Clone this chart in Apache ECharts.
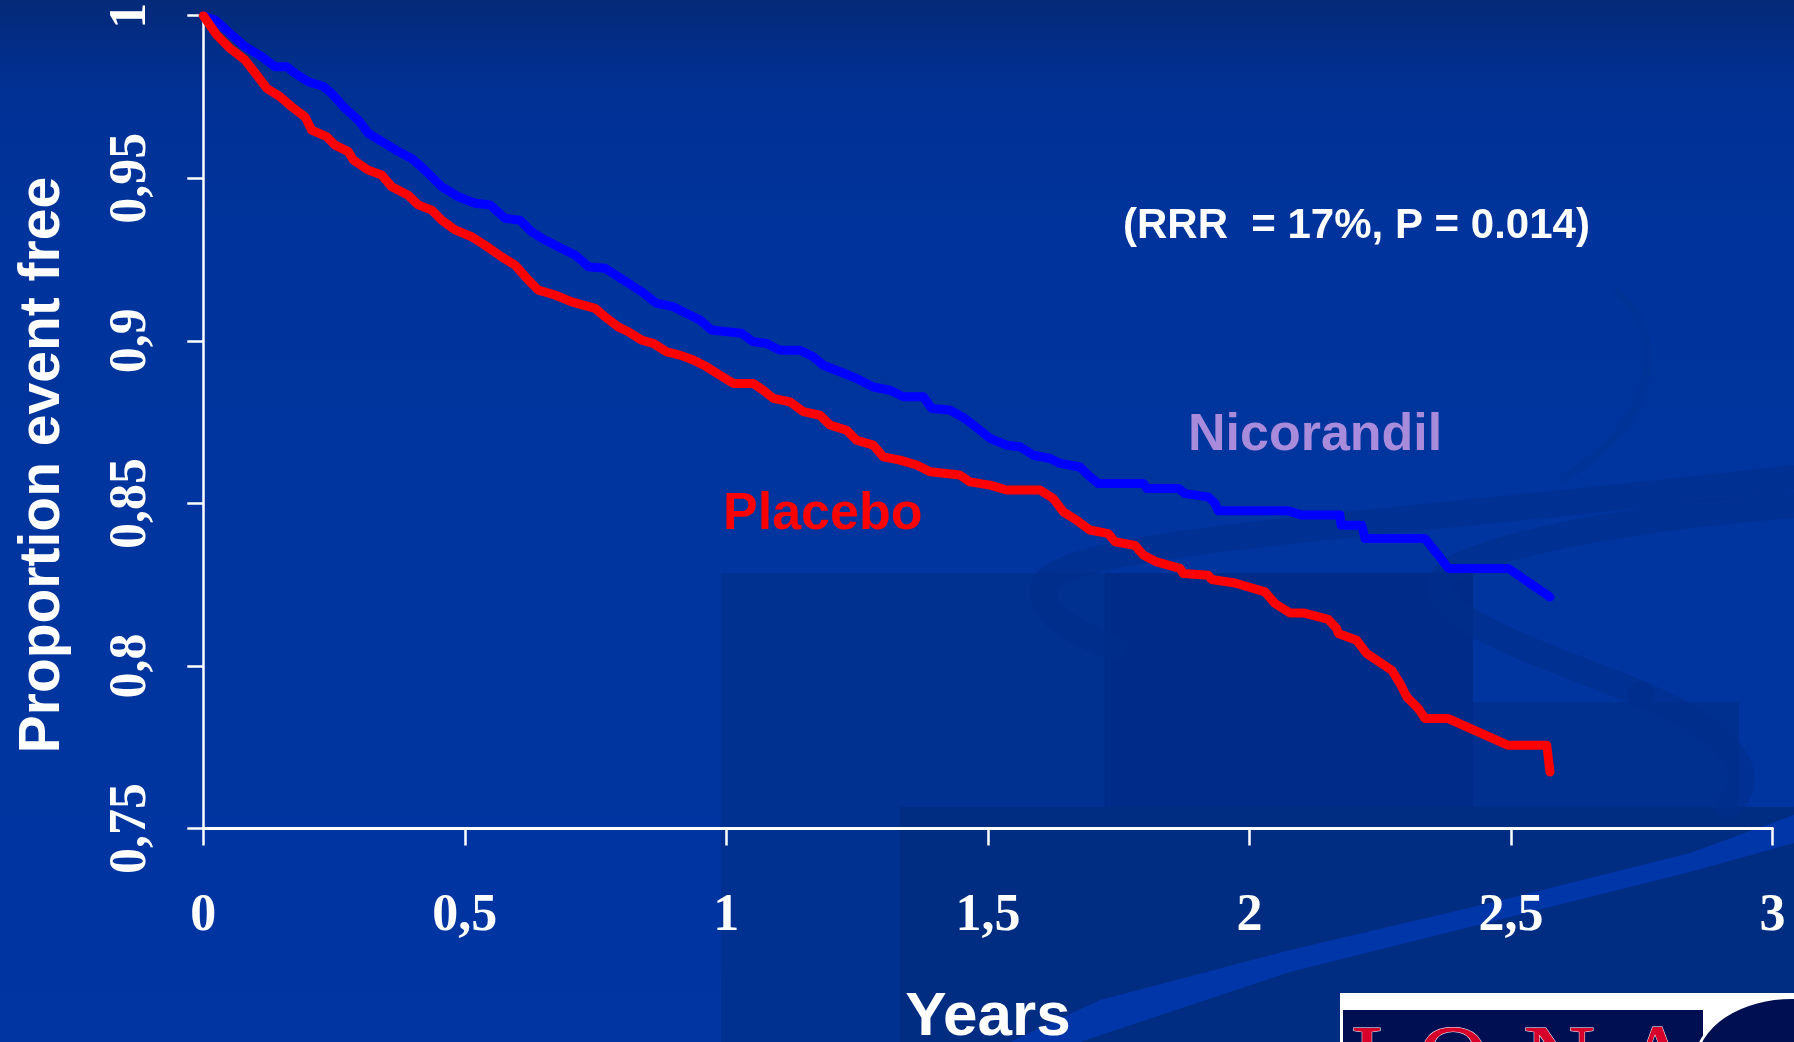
<!DOCTYPE html>
<html>
<head>
<meta charset="utf-8">
<script src="https://cdn.jsdelivr.net/npm/echarts@6/dist/echarts.min.js"></script>
<style>
html,body{margin:0;padding:0;background:#00349c;}
#chart{width:1794px;height:1042px;}
</style>
</head>
<body>
<div id="chart"></div>
<script>
// Kaplan-Meier curves: [years, proportion event free]
const nicorandil = [[0,1],[0.0224,0.9987],[0.0510,0.9946],[0.0797,0.9905],[0.1117,0.9874],[0.1371,0.9843],[0.1594,0.9843],[0.1753,0.9823],[0.2007,0.9797],[0.2294,0.9782],[0.2455,0.9761],[0.2709,0.9715],[0.2963,0.9679],[0.3154,0.9638],[0.3474,0.9607],[0.3728,0.9582],[0.3984,0.9561],[0.4238,0.9525],[0.4558,0.9474],[0.4875,0.9443],[0.5194,0.9423],[0.5481,0.9418],[0.5768,0.9377],[0.6055,0.9371],[0.6278,0.9335],[0.6533,0.9310],[0.6852,0.9284],[0.7106,0.9264],[0.7360,0.9228],[0.7680,0.9223],[0.7934,0.9197],[0.8381,0.9151],[0.8668,0.9115],[0.8985,0.9105],[0.9242,0.9084],[0.9496,0.9064],[0.9720,0.9033],[1.0006,0.9028],[1.0293,0.9023],[1.0515,0.8997],[1.0771,0.8992],[1.1025,0.8971],[1.1408,0.8971],[1.1662,0.8951],[1.1853,0.8925],[1.2172,0.8905],[1.2492,0.8884],[1.2809,0.8858],[1.3128,0.8848],[1.3383,0.8828],[1.3765,0.8828],[1.3925,0.8792],[1.4275,0.8787],[1.4562,0.8761],[1.4849,0.8725],[1.5040,0.8700],[1.5359,0.8679],[1.5614,0.8674],[1.5868,0.8648],[1.6187,0.8638],[1.6378,0.8623],[1.6761,0.8612],[1.6952,0.8582],[1.7111,0.8561],[1.7971,0.8561],[1.8036,0.8546],[1.8640,0.8546],[1.8768,0.8530],[1.9213,0.8520],[1.9342,0.8500],[1.9405,0.8477],[2.0743,0.8477],[2.0999,0.8464],[2.1731,0.8464],[2.1750,0.8433],[2.2146,0.8433],[2.2209,0.8392],[2.3356,0.8392],[2.3610,0.8341],[2.3802,0.8300],[2.4949,0.8300],[2.5746,0.8212]];

const placebo = [[0,1],[0.0256,0.9941],[0.0510,0.9900],[0.0797,0.9864],[0.1021,0.9818],[0.1212,0.9777],[0.1466,0.9751],[0.1690,0.9720],[0.1944,0.9689],[0.2072,0.9648],[0.2359,0.9628],[0.2518,0.9602],[0.2772,0.9582],[0.2868,0.9556],[0.3154,0.9525],[0.3411,0.9510],[0.3602,0.9474],[0.3919,0.9448],[0.4110,0.9418],[0.4367,0.9402],[0.4558,0.9371],[0.4812,0.9341],[0.5131,0.9320],[0.5386,0.9294],[0.5705,0.9258],[0.5959,0.9233],[0.6213,0.9187],[0.6405,0.9156],[0.6724,0.9141],[0.7043,0.9120],[0.7488,0.9100],[0.7680,0.9074],[0.7934,0.9043],[0.8125,0.9028],[0.8381,0.9002],[0.8603,0.8992],[0.8859,0.8966],[0.9114,0.8956],[0.9368,0.8941],[0.9624,0.8920],[0.9878,0.8894],[1.0133,0.8869],[1.0515,0.8869],[1.0706,0.8848],[1.0897,0.8823],[1.1216,0.8812],[1.1471,0.8782],[1.1790,0.8771],[1.1981,0.8741],[1.2300,0.8725],[1.2492,0.8694],[1.2809,0.8679],[1.3000,0.8643],[1.3320,0.8633],[1.3639,0.8618],[1.3893,0.8597],[1.4467,0.8587],[1.4658,0.8566],[1.5040,0.8556],[1.5359,0.8541],[1.5996,0.8541],[1.6250,0.8515],[1.6441,0.8474],[1.6698,0.8448],[1.6952,0.8418],[1.7302,0.8407],[1.7430,0.8382],[1.7812,0.8371],[1.7971,0.8341],[1.8227,0.8320],[1.8672,0.8300],[1.8735,0.8284],[1.9213,0.8279],[1.9278,0.8266],[1.9724,0.8255],[2.0297,0.8228],[2.0489,0.8192],[2.0776,0.8163],[2.1030,0.8163],[2.1508,0.8143],[2.1668,0.8115],[2.1699,0.8100],[2.2051,0.8079],[2.2242,0.8038],[2.2720,0.7987],[2.2879,0.7946],[2.3007,0.7905],[2.3228,0.7869],[2.3356,0.7838],[2.3802,0.7838],[2.4949,0.7756],[2.5684,0.7756],[2.5746,0.7674]];

const xTickLabels = ['0', '0,5', '1', '1,5', '2', '2,5', '3'];
const yTickLabels = ['0,75', '0,8', '0,85', '0,9', '0,95', '1'];
const xAxisTitle = 'Years';
const yAxisTitle = 'Proportion event free';
const statText = '(RRR  = 17%, P = 0.014)';
const seriesNames = ['Nicorandil', 'Placebo'];

const chart = echarts.init(document.getElementById('chart'), null, {renderer: 'canvas'});

const swoosh = {fill: null, stroke: '#002E8C', lineWidth: 26, opacity: 0.65, lineCap: 'round'};
const logoLetter = function (ch, x) {
  return {type: 'text', z: 7, x: x, y: 1067, style: {text: ch, fill: '#D6002A', stroke: '#ffffff', lineWidth: 1, font: '100px "Liberation Serif"', textAlign: 'center', textVerticalAlign: 'middle'}};
};

const decor = [
  {type: 'rect', z: -10, shape: {x: 721, y: 573, width: 384, height: 469}, style: {fill: '#003090'}},
  {type: 'rect', z: -10, shape: {x: 1105, y: 573, width: 368, height: 234}, style: {fill: '#002B88'}},
  {type: 'rect', z: -10, shape: {x: 1473, y: 702, width: 266, height: 105}, style: {fill: '#00308F'}},
  {type: 'rect', z: -10, shape: {x: 900, y: 807, width: 894, height: 235}, style: {fill: '#002C82'}},
  // upper "C" band of the S swoosh
  {type: 'bezierCurve', z: -9, shape: {x1: 1794, y1: 478, cpx1: 1400, cpy1: 525, cpx2: 1060, cpy2: 540, x2: 1045, y2: 585}, style: swoosh},
  {type: 'bezierCurve', z: -9, shape: {x1: 1045, y1: 585, cpx1: 1035, cpy1: 615, cpx2: 1080, cpy2: 635, x2: 1115, y2: 648}, style: swoosh},
  // lower loop of the S
  {type: 'bezierCurve', z: -9, shape: {x1: 1794, y1: 505, cpx1: 1600, cpy1: 520, cpx2: 1440, cpy2: 555, x2: 1440, y2: 585}, style: swoosh},
  {type: 'bezierCurve', z: -9, shape: {x1: 1440, y1: 585, cpx1: 1440, cpy1: 625, cpx2: 1560, cpy2: 660, x2: 1641, y2: 694}, style: swoosh},
  {type: 'bezierCurve', z: -9, shape: {x1: 1641, y1: 694, cpx1: 1740, cpy1: 735, cpx2: 1760, cpy2: 780, x2: 1727, y2: 806}, style: swoosh},
  // faint top arc
  {type: 'bezierCurve', z: -9, shape: {x1: 1615, y1: 290, cpx1: 1665, cpy1: 330, cpx2: 1665, cpy2: 420, x2: 1560, y2: 480}, style: {fill: null, stroke: '#00318F', lineWidth: 8, opacity: 0.5}},
  // lighter tail of the S
  {type: 'polygon', z: -8, shape: {points: [[1794,815],[1690,853],[1490,903],[1290,950],[1100,1000],[1010,1042],[1080,1042],[1290,972],[1490,922],[1690,872],[1794,843]]}, style: {fill: '#0036A8'}},
  // logo
  {type: 'rect', z: 5, shape: {x: 1340, y: 993, width: 460, height: 60}, style: {fill: '#ffffff'}},
  {type: 'rect', z: 6, shape: {x: 1343, y: 1010, width: 360, height: 40}, style: {fill: '#000E52'}},
  {type: 'circle', z: 6, x: 1792, y: 1062, scaleX: 1.5, shape: {cx: 0, cy: 0, r: 64}, style: {fill: '#000E52', stroke: '#ffffff', lineWidth: 2}},
  logoLetter('I', 1367), logoLetter('O', 1453), logoLetter('N', 1559), logoLetter('A', 1658),
  // annotations
  {type: 'text', z: 10, x: 1123, y: 226, style: {text: statText, fill: '#ffffff', font: 'bold 42px "Liberation Sans", Arial, sans-serif', textAlign: 'left', textVerticalAlign: 'middle'}},
  {type: 'text', z: 10, x: 1188, y: 436, style: {text: seriesNames[0], fill: '#A98BDC', font: 'bold 52px "Liberation Sans", Arial, sans-serif', textAlign: 'left', textVerticalAlign: 'middle'}},
  {type: 'text', z: 10, x: 723, y: 515, style: {text: seriesNames[1], fill: '#FF0000', font: 'bold 52px "Liberation Sans", Arial, sans-serif', textAlign: 'left', textVerticalAlign: 'middle'}}
];

const option = {
  animation: false,
  backgroundColor: {
    type: 'linear', x: 0, y: 0, x2: 0, y2: 1,
    colorStops: [
      {offset: 0, color: '#042A78'},
      {offset: 0.08, color: '#013093'},
      {offset: 0.22, color: '#00349C'},
      {offset: 1, color: '#0035A2'}
    ]
  },
  grid: {left: 203.3, right: 21.5, top: 15.7, bottom: 213.5, containLabel: false, outerBoundsMode: 'none'},
  xAxis: {
    type: 'value', min: 0, max: 3, interval: 0.5,
    name: xAxisTitle, nameLocation: 'middle', nameGap: 158,
    nameTextStyle: {color: '#ffffff', fontSize: 62, fontWeight: 'bold', fontFamily: '"Liberation Sans", Arial, sans-serif'},
    axisLine: {show: true, lineStyle: {color: '#ffffff', width: 3}},
    axisTick: {show: true, length: 17, lineStyle: {color: '#ffffff', width: 2.5}},
    axisLabel: {
      color: '#ffffff', fontSize: 52, fontWeight: 'bold', fontFamily: '"Liberation Serif", "Times New Roman", serif', margin: 62,
      formatter: function (v) { return xTickLabels[Math.round(v / 0.5)]; }
    },
    splitLine: {show: false}
  },
  yAxis: {
    type: 'value', min: 0.75, max: 1, interval: 0.05,
    name: yAxisTitle, nameLocation: 'middle', nameGap: 132, nameRotate: 90,
    nameTextStyle: {color: '#ffffff', fontSize: 57, fontWeight: 'bold', fontFamily: '"Liberation Sans", Arial, sans-serif', padding: [0, 86, 0, 0]},
    axisLine: {show: true, lineStyle: {color: '#ffffff', width: 2.5}},
    axisTick: {show: true, length: 16, lineStyle: {color: '#ffffff', width: 2.5}},
    axisLabel: {
      color: '#ffffff', fontSize: 52, fontWeight: 'bold', fontFamily: '"Liberation Serif", "Times New Roman", serif', margin: 46, rotate: 90,
      formatter: function (v) { return yTickLabels[Math.round((v - 0.75) / 0.05)]; }
    },
    splitLine: {show: false}
  },
  series: [
    {
      name: seriesNames[0], type: 'line', data: nicorandil, showSymbol: false, symbol: 'none', z: 3,
      lineStyle: {color: '#0000FF', width: 9, cap: 'round', join: 'round'}
    },
    {
      name: seriesNames[1], type: 'line', data: placebo, showSymbol: false, symbol: 'none', z: 4,
      lineStyle: {color: '#FF0000', width: 9, cap: 'round', join: 'round'}
    }
  ],
  graphic: {elements: decor}
};
chart.setOption(option);
</script>
</body>
</html>
